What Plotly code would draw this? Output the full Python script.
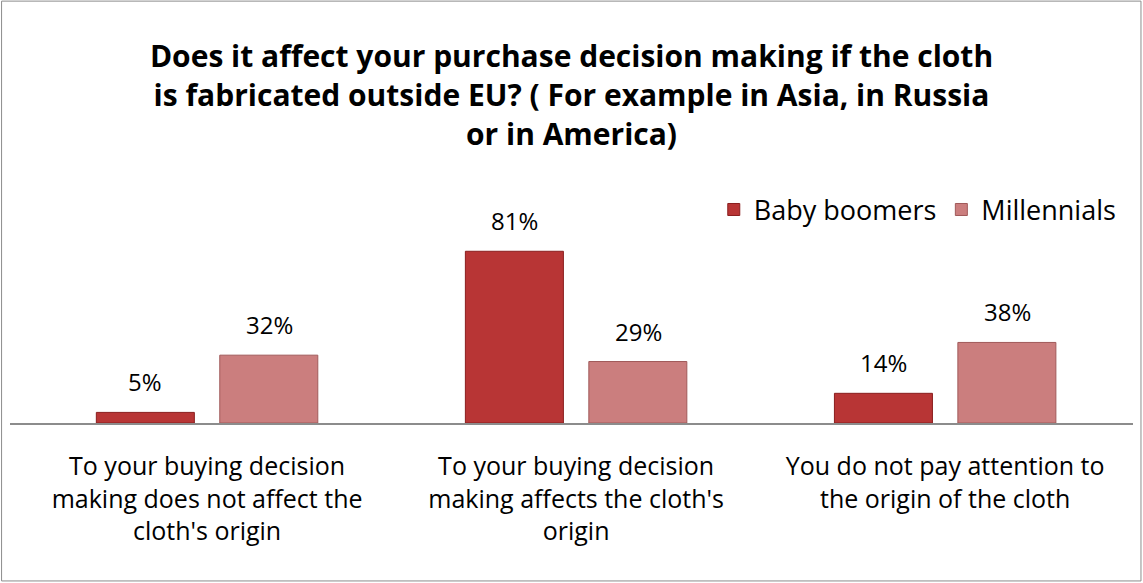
import plotly.graph_objects as go

# data
categories = [
    "To your buying decision<br>making does not affect the<br>cloth's origin",
    "To your buying decision<br>making affects the cloth's<br>origin",
    "You do not pay attention to<br>the origin of the cloth",
]
series_names = ["Baby boomers", "Millennials"]
baby_boomers = [0.05, 0.81, 0.14]
millennials = [0.32, 0.29, 0.38]

title_text = ("Does it affect your purchase decision making if the cloth<br>"
              "is fabricated outside EU? ( For example in Asia, in Russia<br>"
              "or in America)")

FONT = "Open Sans, Lato, sans-serif"
x_idx = [0, 1, 2]

fig = go.Figure()
fig.add_trace(go.Bar(
    x=x_idx, y=baby_boomers, name=series_names[0],
    marker=dict(color="#B83535", line=dict(color="#8A1E1E", width=1)),
))
fig.add_trace(go.Bar(
    x=x_idx, y=millennials, name=series_names[1],
    marker=dict(color="#CB7E7E", line=dict(color="#A05A5A", width=1)),
))

# value labels above bars
for vals, shift in [(baby_boomers, -62), (millennials, 62)]:
    for xi, v in zip(x_idx, vals):
        fig.add_annotation(
            x=xi, y=v, xref="x", yref="y", text=f"{round(v*100)}%",
            showarrow=False, xshift=shift, yanchor="bottom", yshift=12,
            font=dict(family=FONT, size=24, color="black"),
        )

# outer chart border
fig.add_shape(type="rect", xref="paper", yref="paper",
              x0=-0.0075, x1=1.0071, y0=-0.745, y1=1.99,
              line=dict(color="#8C8C8C", width=1), fillcolor="rgba(0,0,0,0)")

fig.update_layout(
    width=1143, height=583,
    margin=dict(l=10, r=10, t=211, b=160),
    paper_bgcolor="white", plot_bgcolor="white",
    barmode="group", bargap=0.331, bargroupgap=0.206,
    title=dict(text=title_text, x=0.5, xanchor="center", y=0.885, yanchor="top",
               font=dict(family=FONT, size=30, color="black", weight="bold")),
    legend=dict(orientation="h", x=0.99, xanchor="right", y=1.005, yanchor="middle",
                font=dict(family=FONT, size=27, color="black"),
                traceorder="normal"),
    font=dict(family=FONT, color="black"),
)
fig.update_xaxes(
    tickvals=x_idx, ticktext=categories, range=[-0.534, 2.509],
    showline=True, linecolor="#8C8C8C", linewidth=2, ticks="",
    ticklabelstandoff=20,
    tickfont=dict(family=FONT, size=25, color="black"), showgrid=False,
)
fig.update_yaxes(range=[0, 1], visible=False, showgrid=False, zeroline=False)

fig.write_html("out.html", config={"displayModeBar": False},
               post_script="document.body.style.margin='0';")
